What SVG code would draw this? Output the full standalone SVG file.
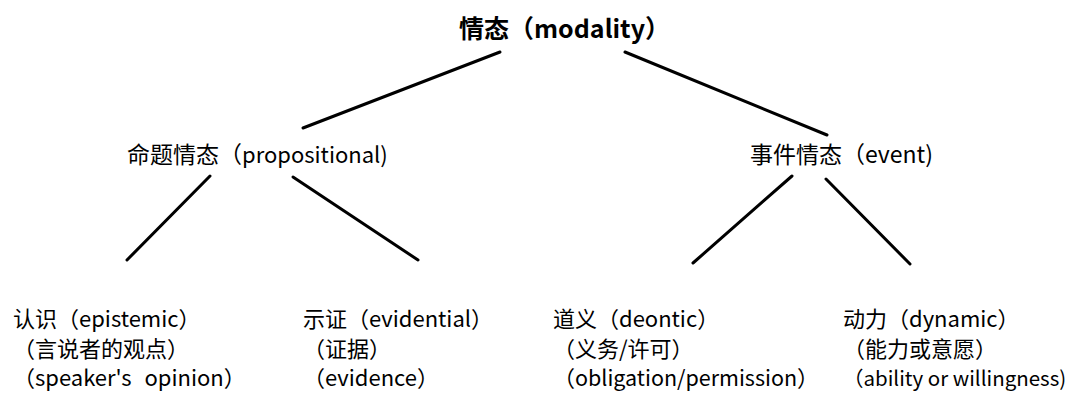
<svg xmlns="http://www.w3.org/2000/svg" width="1075" height="394" viewBox="0 0 1075 394">
<style>
text{font-family:"Noto Sans CJK SC","Noto Sans",sans-serif;fill:#000;}
.t{font-size:25px;font-weight:bold;}
.m{font-size:23px;}
.b{font-size:22px;}
.c line{stroke:#000;stroke-width:3;stroke-linecap:round;}
</style>
<rect width="1075" height="394" fill="#fff"/>
<g class="c" id="connectors">
<line x1="500" y1="52" x2="303" y2="128"/>
<line x1="625" y1="52" x2="827" y2="135"/>
<line x1="210" y1="176" x2="127" y2="260"/>
<line x1="293" y1="177" x2="418" y2="260"/>
<line x1="792" y1="176" x2="693" y2="263"/>
<line x1="826" y1="179" x2="910" y2="264"/>
</g>
<g id="modality"><text class="t" x="459" y="38">情态（modality）</text></g>
<g id="propositional"><text class="m" x="127" y="163">命题情态（<tspan font-size="22">propositional)</tspan></text></g>
<g id="event"><text class="m" x="750" y="163">事件情态（event)</text></g>
<g id="epistemic">
<text class="b" x="13" y="327">认识（epistemic）</text>
<text class="b" x="13" y="357">（言说者的观点）</text>
<text class="b" x="13" y="386">（speaker's <tspan dx="8">opinion</tspan>）</text>
</g>
<g id="evidential">
<text class="b" x="303" y="327">示证（evidential）</text>
<text class="b" x="303" y="357">（证据）</text>
<text class="b" x="303" y="386">（evidence）</text>
</g>
<g id="deontic">
<text class="b" x="553" y="327">道义（deontic）</text>
<text class="b" x="553" y="357">（义务/许可）</text>
<text class="b" x="553" y="386">（<tspan font-size="21.5">obligation/permission</tspan>）</text>
</g>
<g id="dynamic">
<text class="b" x="843" y="327">动力（dynamic）</text>
<text class="b" x="843" y="357">（能力或意愿）</text>
<text class="b" x="843" y="386" font-size="20.5" style="font-size:20.5px">（ability or willingness)</text>
</g>
</svg>
